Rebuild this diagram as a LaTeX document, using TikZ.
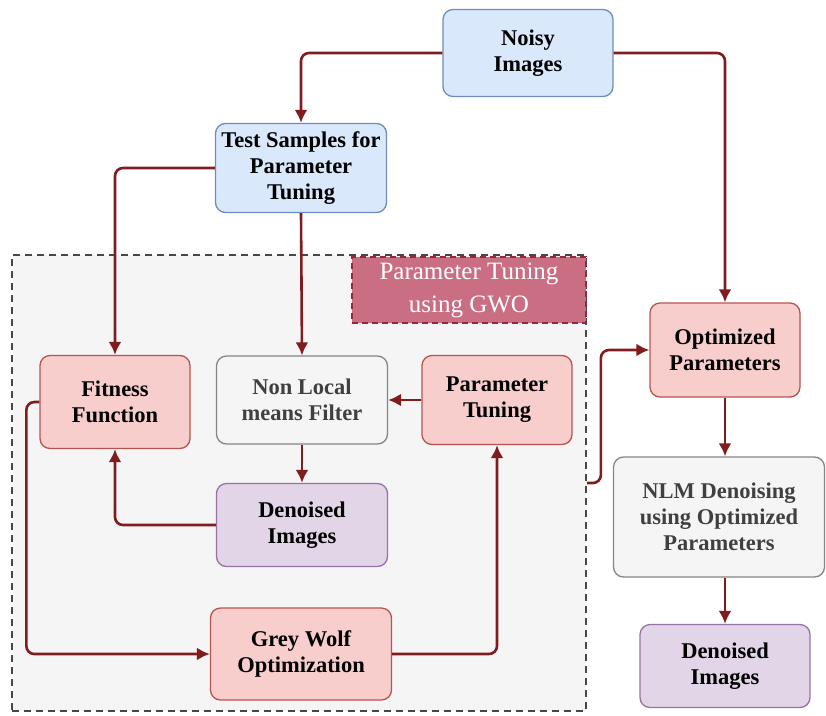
\documentclass[tikz,border=0pt]{standalone}
\usepackage{fontspec}
\setmainfont{Liberation Serif}
\usetikzlibrary{arrows.meta}

\definecolor{blueF}{HTML}{DAE8FC}
\definecolor{blueD}{HTML}{6C8EBF}
\definecolor{redF}{HTML}{F8CECC}
\definecolor{redD}{HTML}{B85450}
\definecolor{grayF}{HTML}{F5F5F5}
\definecolor{grayD}{HTML}{666666}
\definecolor{purpF}{HTML}{E1D5E7}
\definecolor{purpD}{HTML}{9673A6}
\definecolor{linkC}{RGB}{128,28,30}
\definecolor{tagF}{RGB}{202,110,132}
\definecolor{tagD}{RGB}{150,40,60}

\begin{document}
\begin{tikzpicture}[x=1pt, y=-1pt, >={Latex[length=13pt,width=13pt]},
  box/.style={draw, rounded corners=10pt, line width=1.3pt, align=center,
    inner sep=0pt, font=\bfseries\fontsize{22.5}{26}\selectfont},
  bluebox/.style={box, fill=blueF, draw=blueD},
  redbox/.style={box, fill=redF, draw=redD},
  graybox/.style={box, fill=grayF, draw=grayD!80, text=black!75},
  purpbox/.style={box, fill=purpF, draw=purpD},
  link/.style={->, draw=linkC, line width=2.6pt, rounded corners=8pt}]
  \useasboundingbox (0,0) rectangle (826,715);
  % dashed tuning region and its tag
  \node[draw=grayD!70!black, dash pattern=on 7pt off 5pt, line width=1.8pt, fill=grayF,
    minimum width=574, minimum height=456] (region) at (299,483) {};
  \node[draw=tagD, dash pattern=on 6pt off 4pt, line width=1.6pt, fill=tagF, text=white,
    align=center, minimum width=234, minimum height=66, inner sep=0pt,
    font=\fontsize{25}{33}\selectfont] (tag) at (469,290)
    {Parameter Tuning\\using GWO};
  % boxes
  \node[bluebox, minimum width=170, minimum height=87] (noisy) at (528,53) {Noisy\\Images};
  \node[bluebox, minimum width=171, minimum height=89] (test) at (301,168) {Test Samples for\\Parameter\\Tuning};
  \node[redbox, minimum width=150, minimum height=93] (fitness) at (115,402) {Fitness\\Function};
  \node[graybox, minimum width=171, minimum height=88] (nlf) at (302,400) {Non Local\\means Filter};
  \node[redbox, minimum width=150, minimum height=89] (ptune) at (497,400) {Parameter\\Tuning};
  \node[purpbox, minimum width=171, minimum height=83] (den1) at (302,525) {Denoised\\Images};
  \node[redbox, minimum width=181, minimum height=92] (gwo) at (301,654) {Grey Wolf\\Optimization};
  \node[redbox, minimum width=150, minimum height=94] (optim) at (725,350) {Optimized\\Parameters};
  \node[graybox, minimum width=211, minimum height=120] (nlm) at (719,517) {NLM Denoising\\using Optimized\\Parameters};
  \node[purpbox, minimum width=170, minimum height=83] (den2) at (725,666) {Denoised\\Images};
  % connectors
  \draw[link] (noisy.west) -| (test.north);
  \draw[link] (noisy.east) -| (optim.north);
  \draw[link] (test.west) -| (fitness.north);
  \draw[link] (test.south) -- (nlf.north);
  \draw[link] (ptune.west) -- (nlf.east);
  \draw[link] (nlf.south) -- (den1.north);
  \draw[link] (den1.west) -| (fitness.south);
  \draw[link] (fitness.west) -- ++(-13,0) |- (gwo.west);
  \draw[link] (gwo.east) -| (ptune.south);
  \draw[link] (region.east) -- ++(14,0) |- (optim.west);
  \draw[link] (optim.south) -- (optim.south |- nlm.north);
  \draw[link] (nlm.south -| den2.north) -- (den2.north);
\end{tikzpicture}
\end{document}
